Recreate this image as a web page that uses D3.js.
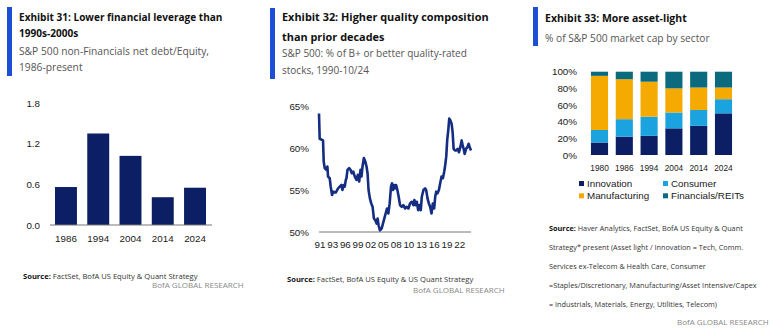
<!DOCTYPE html>
<html>
<head>
<meta charset="utf-8">
<script src="https://cdn.jsdelivr.net/npm/d3@7"></script>
<style>
  body { margin: 0; background: #fff; }
  svg text { font-family: "Liberation Sans", Arial, sans-serif; }
  svg text.hd { font-family: "Open Sans", sans-serif; }
</style>
</head>
<body>
<div id="holder"></div>
<script>
// ---- data ----
let leverageYears = ["1986", "1994", "2004", "2014", "2024"];
let leverageValues = [0.56, 1.35, 1.02, 0.41, 0.55];
let leverageTicks = [0, 0.6, 1.2, 1.8];

// % of B+ or better rated stocks, decimal year + pct
let qualityYears = [1990.9, 1991.05, 1991.8, 1991.95, 1992.17, 1992.54, 1992.77, 1992.92, 1993.29, 1993.51,
  1993.81, 1994.04, 1994.63, 1995.16, 1995.53, 1995.9, 1996.13, 1996.43, 1996.65, 1996.87,
  1997.02, 1997.25, 1997.62, 1997.92, 1998.22, 1998.52, 1998.89, 1999.26, 1999.56, 1999.86,
  2000.16, 2000.38, 2000.61, 2000.91, 2001.21, 2001.5, 2001.73, 2001.95, 2002.25, 2002.55,
  2002.85, 2003.15, 2003.45, 2003.75, 2003.97, 2004.19, 2004.49, 2004.87, 2005.16, 2005.46,
  2005.76, 2006.06, 2006.36, 2006.66, 2006.96, 2007.18, 2007.4, 2007.63, 2007.85, 2008.08,
  2008.38, 2008.67, 2008.97, 2009.35, 2009.72, 2010.09, 2010.47, 2010.84, 2011.21, 2011.59,
  2011.96, 2012.18, 2012.41, 2012.71, 2013.01, 2013.3, 2013.6, 2013.83, 2014.2, 2014.57,
  2014.8, 2015.1, 2015.4, 2015.69, 2015.99, 2016.29, 2016.59, 2016.82, 2017.04, 2017.34,
  2017.64, 2017.93, 2018.23, 2018.53, 2018.83, 2019.06, 2019.28, 2019.5, 2019.73, 2019.95,
  2020.18, 2020.47, 2020.7, 2020.92, 2021.22, 2021.52, 2021.82, 2022.12, 2022.42, 2022.72,
  2022.94, 2023.16, 2023.39, 2023.69, 2023.99, 2024.28, 2024.51, 2024.8];
let qualityPct = [64.1, 61.1, 60.9, 58.4, 57.6, 57.4, 57.8, 56.6, 56.4, 55.4,
  54.4, 54.8, 54.7, 55.2, 55.4, 55.6, 55.0, 55.6, 55.4, 56.2,
  56.4, 57.4, 57.6, 57.4, 57.0, 57.2, 56.6, 56.2, 56.8, 56.0,
  57.4, 56.6, 57.8, 58.8, 58.4, 57.8, 57.0, 55.0, 54.0, 53.4,
  53.0, 51.6, 51.4, 51.0, 51.6, 50.8, 50.2, 50.4, 51.0, 51.6,
  52.2, 52.8, 52.2, 53.4, 55.4, 55.8, 55.0, 55.6, 55.2, 55.6,
  55.0, 54.2, 53.2, 53.0, 53.2, 52.8, 53.0, 52.8, 53.4, 53.6,
  53.2, 53.8, 53.2, 53.6, 52.6, 53.2, 52.6, 54.2, 55.0, 55.2,
  55.0, 54.0, 53.4, 53.0, 52.2, 53.4, 52.8, 54.2, 54.8, 54.6,
  55.0, 55.8, 56.6, 56.4, 57.2, 58.0, 59.0, 61.0, 62.1, 63.5,
  63.3, 62.9, 61.9, 59.9, 59.7, 59.7, 59.9, 59.5, 60.1, 60.9,
  60.3, 59.9, 59.3, 59.9, 60.1, 60.5, 60.1, 59.7];
let qualityTicks = [50, 55, 60, 65];
let qualityTickLabels = ["91", "93", "96", "99", "02", "05", "08", "10", "13", "16", "19", "22"];

let sectorYears = ["1980", "1986", "1994", "2004", "2014", "2024"];
let sectorNames = ["Innovation", "Consumer", "Manufacturing", "Financials/REITs"];
let innovation = [15, 22, 23, 32, 35, 50];
let consumer = [15, 21, 23, 19, 19, 17];
let manufacturing = [65, 48, 42, 29, 27, 14];
let financials = [5, 9, 12, 20, 19, 19];
let sectorTicks = [0, 20, 40, 60, 80, 100];

let navy = "#0c1f64";
let sectorColors = ["#0c1f64", "#1aa3df", "#f4aa00", "#0b6a7e"];
let axisFont = 9.8;

// ---- canvas ----
let svg = d3.select("#holder").append("svg")
  .attr("width", 773)
  .attr("height", 329);

// blue accent bar + bold title lines + grey subtitle lines (baselines given)
function header(x, barTop, barH, titleLines, titleYs, titleSize, subLines, subYs, subSize) {
  svg.append("rect").attr("x", x).attr("y", barTop).attr("width", 5).attr("height", barH).attr("fill", "#1c4fd6");
  titleLines.forEach(function(t, i) {
    svg.append("text").attr("class", "hd").attr("x", x + 12).attr("y", titleYs[i])
      .attr("font-size", titleSize).attr("font-weight", 700).attr("fill", "#111").text(t);
  });
  subLines.forEach(function(t, i) {
    svg.append("text").attr("class", "hd").attr("x", x + 12).attr("y", subYs[i])
      .attr("font-size", subSize).attr("fill", "#555").text(t);
  });
}

function source(x, y, text, size) {
  let t = svg.append("text").attr("class", "hd").attr("x", x).attr("y", y).attr("font-size", size).attr("fill", "#333");
  t.append("tspan").attr("font-weight", 700).attr("fill", "#111").text("Source:");
  t.append("tspan").text(" " + text);
}

function bofa(x, y) {
  svg.append("text").attr("class", "hd").attr("x", x).attr("y", y)
    .attr("font-size", 8).attr("fill", "#888").text("BofA GLOBAL RESEARCH");
}

function styleAxis(g) {
  g.select(".domain").remove();
  g.selectAll("text").attr("font-size", axisFont).attr("fill", "#1a1a1a");
}

// ---- Exhibit 31 ----
header(7, 7, 69, ["Exhibit 31: Lower financial leverage than", "1990s-2000s"], [21, 37], 10.05,
  ["S&P 500 non-Financials net debt/Equity,", "1986-present"], [55, 71], 10.25);

let x1 = d3.scaleBand().domain(leverageYears).range([50, 211]).paddingInner(0.32).paddingOuter(0.155);
let y1 = d3.scaleLinear().domain([0, 1.8]).range([225, 103]);

svg.append("g").selectAll("rect").data(leverageValues).join("rect")
  .attr("x", function(d, i) { return x1(leverageYears[i]); })
  .attr("y", function(d) { return y1(d); })
  .attr("width", x1.bandwidth())
  .attr("height", function(d) { return y1(0) - y1(d); })
  .attr("fill", navy);

svg.append("line").attr("x1", 50).attr("x2", 212).attr("y1", 225).attr("y2", 225)
  .attr("stroke", "#777").attr("stroke-width", 1);
svg.append("g").attr("transform", "translate(0,225)")
  .call(d3.axisBottom(x1).tickSize(0).tickPadding(10))
  .call(styleAxis);
svg.append("g").attr("transform", "translate(40,0)")
  .call(d3.axisLeft(y1).tickValues(leverageTicks).tickFormat(d3.format(".1f")).tickSize(0).tickPadding(0))
  .call(styleAxis);

source(23, 279, "FactSet, BofA US Equity & Quant Strategy", 7.6);
bofa(152, 288);

// ---- Exhibit 32 ----
header(270, 8, 71, ["Exhibit 32: Higher quality composition", "than prior decades"], [21, 41], 10.9,
  ["S&P 500: % of B+ or better quality-rated", "stocks, 1990-10/24"], [57, 74], 10.0);

let x2 = d3.scaleLinear().domain([1990.9, 2024.8]).range([319, 471]);
let y2 = d3.scaleLinear().domain([50, 65]).range([232, 106]);

// labelled every 34 months starting Jan 1991
let qualityTickPos = qualityTickLabels.map(function(l, i) { return 1991 + i * 34 / 12; });

svg.append("line").attr("x1", 319).attr("x2", 471).attr("y1", 232).attr("y2", 232)
  .attr("stroke", "#777").attr("stroke-width", 1);

svg.append("g").attr("transform", "translate(0,232)")
  .call(d3.axisBottom(x2).tickValues(qualityTickPos).tickFormat(function(d, i) { return qualityTickLabels[i]; })
    .tickSize(0).tickPadding(9))
  .call(styleAxis);
svg.append("g").attr("transform", "translate(309,0)")
  .call(d3.axisLeft(y2).tickValues(qualityTicks).tickFormat(function(d) { return d + "%"; }).tickSize(0).tickPadding(0))
  .call(styleAxis);

let qualityLine = d3.line()
  .x(function(d, i) { return x2(qualityYears[i]); })
  .y(function(d) { return y2(d); });
svg.append("path").datum(qualityPct)
  .attr("d", qualityLine)
  .attr("fill", "none")
  .attr("stroke", "#142d82")
  .attr("stroke-width", 2.6)
  .attr("stroke-linejoin", "round");

source(287, 282, "FactSet, BofA US Equity & US Quant Strategy", 7.6);
bofa(413, 293);

// ---- Exhibit 33 ----
header(533, 7, 39, ["Exhibit 33: More asset-light"], [22], 10.5,
  ["% of S&P 500 market cap by sector"], [42], 10.2);

let x3 = d3.scaleBand().domain(sectorYears).range([586, 737]).paddingInner(0.31).paddingOuter(0.2);
let y3 = d3.scaleLinear().domain([0, 100]).range([155, 71.7]);

let sectorRows = sectorYears.map(function(yr, i) {
  return { year: yr, Innovation: innovation[i], Consumer: consumer[i],
    Manufacturing: manufacturing[i], "Financials/REITs": financials[i] };
});
let stacked = d3.stack().keys(sectorNames)(sectorRows);

svg.append("g").selectAll("g").data(stacked).join("g")
  .attr("fill", function(d, i) { return sectorColors[i]; })
  .selectAll("rect").data(function(d) { return d; }).join("rect")
  .attr("x", function(d) { return x3(d.data.year); })
  .attr("y", function(d) { return y3(d[1]); })
  .attr("width", x3.bandwidth())
  .attr("height", function(d) { return y3(d[0]) - y3(d[1]); });

svg.append("g").attr("transform", "translate(0,155)")
  .call(d3.axisBottom(x3).tickSize(0).tickPadding(9))
  .call(styleAxis)
  .call(function(g) {
    // labels are tightly packed in the original
    g.selectAll("text").attr("textLength", 18.5).attr("lengthAdjust", "spacingAndGlyphs");
  });
svg.append("g").attr("transform", "translate(577,0)")
  .call(d3.axisLeft(y3).tickValues(sectorTicks).tickFormat(function(d) { return d + "%"; }).tickSize(0).tickPadding(0))
  .call(styleAxis);

// legend: two columns
let legend = svg.append("g").selectAll("g").data(sectorNames).join("g")
  .attr("transform", function(d, i) {
    return "translate(" + (i % 2 === 0 ? 579 : 663) + "," + (183.5 + Math.floor(i / 2) * 12.3) + ")";
  });
legend.append("rect").attr("x", 0).attr("y", -2.5).attr("width", 5).attr("height", 5)
  .attr("fill", function(d, i) { return sectorColors[i]; });
legend.append("text").attr("x", 8).attr("y", 3.5).attr("font-size", 9.8).attr("fill", "#1a1a1a")
  .text(function(d) { return d; });

let notes = [
  "Haver Analytics, FactSet, BofA US Equity & Quant",
  "Strategy* present (Asset light / Innovation = Tech, Comm.",
  "Services ex-Telecom & Health Care, Consumer",
  "=Staples/Discretionary, Manufacturing/Asset Intensive/Capex",
  "= Industrials, Materials, Energy, Utilities, Telecom)"
];
notes.forEach(function(n, i) {
  if (i === 0) {
    source(549, 231, n, 7.3);
  } else {
    svg.append("text").attr("class", "hd").attr("x", 549).attr("y", 231 + i * 19)
      .attr("font-size", 7.3).attr("fill", "#333").text(n);
  }
});
bofa(677, 325);
</script>
</body>
</html>
